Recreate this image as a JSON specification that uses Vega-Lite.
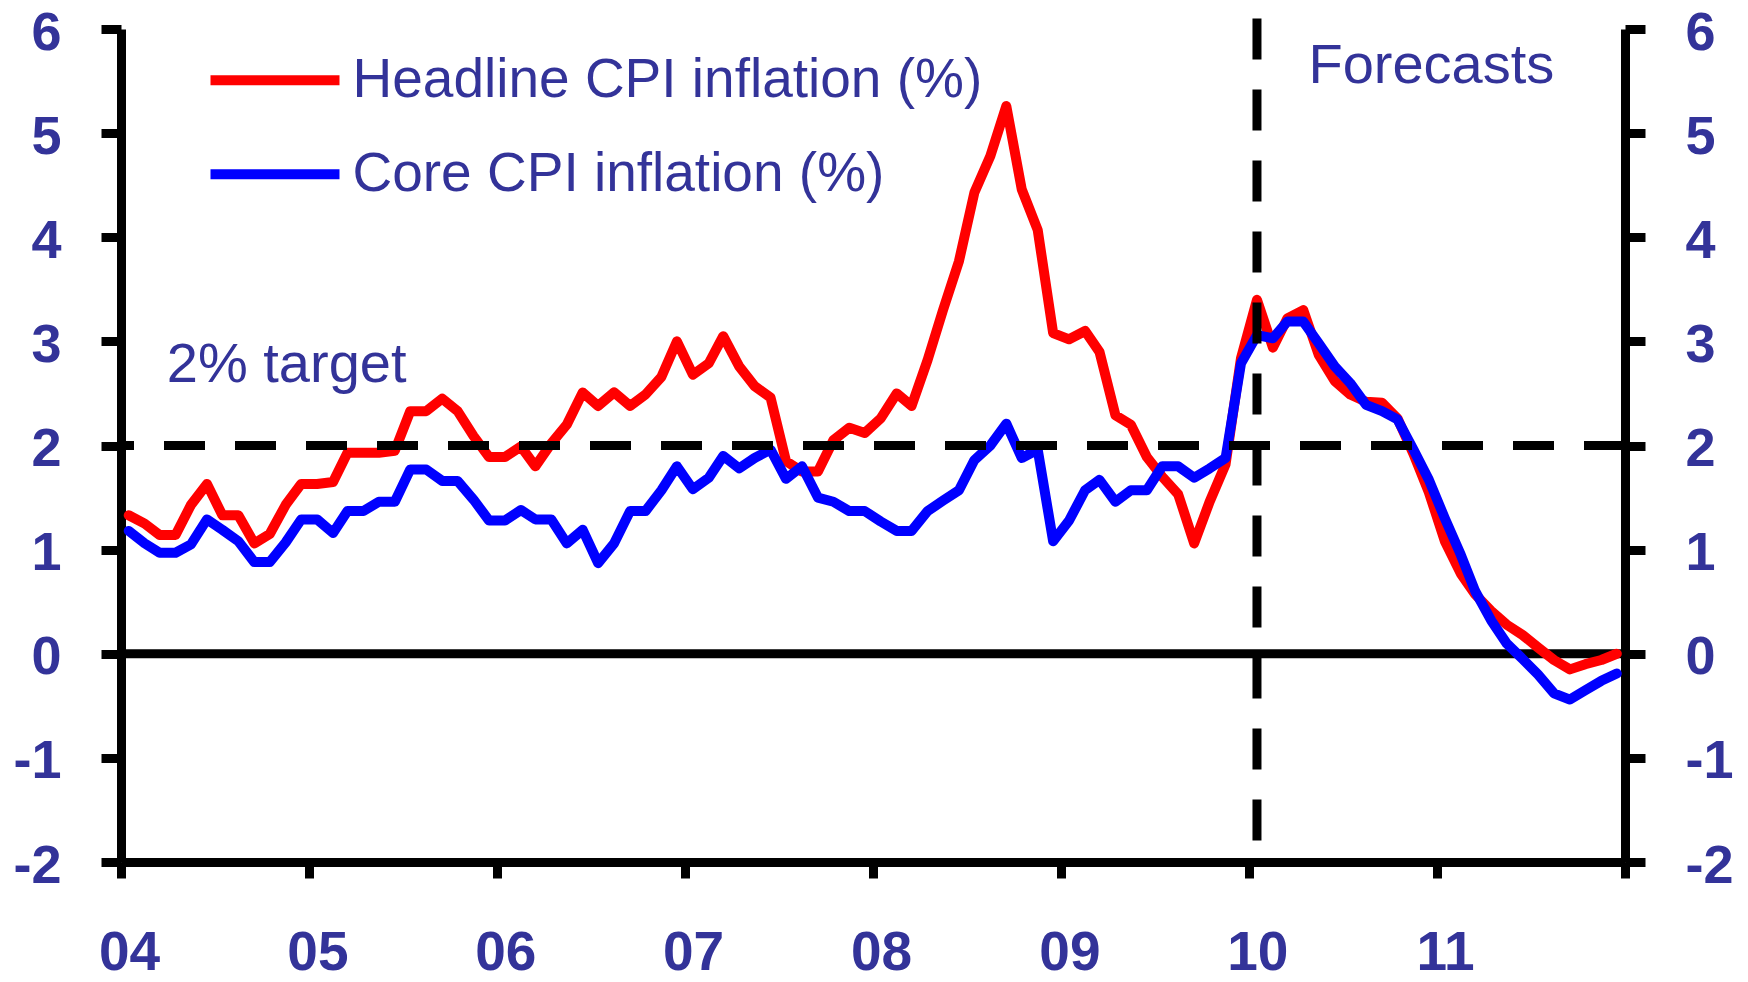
{
  "$schema": "https://vega.github.io/schema/vega-lite/v6.json",
  "width": 1504,
  "height": 833,
  "autosize": {"type": "none"},
  "padding": {"left": 121, "top": 29, "right": 123, "bottom": 120},
  "background": "white",
  "config": {
    "view": {"stroke": null},
    "font": "Liberation Sans",
    "axis": {
      "domainColor": "black", "domainWidth": 9, "tickColor": "black", "tickWidth": 9,
      "grid": false, "labelFont": "Liberation Sans", "labelFontWeight": "bold",
      "labelFontSize": 56, "labelColor": "#333399", "title": null
    },
    "legend": {
      "orient": "none", "legendX": 126.5, "legendY": 23.7, "title": null,
      "symbolType": "M-4,0H4", "symbolSize": 1040, "symbolStrokeWidth": 10,
      "labelFont": "Liberation Sans", "labelFontSize": 55, "labelColor": "#333399",
      "labelOffset": 50, "rowPadding": 38, "padding": 0, "labelLimit": 1000
    }
  },
  "datasets": {
    "cpi": [
      {"date":"2004-01-16","headline":1.33,"core":1.18},
      {"date":"2004-02-16","headline":1.25,"core":1.06},
      {"date":"2004-03-16","headline":1.14,"core":0.97},
      {"date":"2004-04-16","headline":1.14,"core":0.97},
      {"date":"2004-05-16","headline":1.43,"core":1.05},
      {"date":"2004-06-16","headline":1.63,"core":1.29},
      {"date":"2004-07-16","headline":1.33,"core":1.19},
      {"date":"2004-08-16","headline":1.33,"core":1.08},
      {"date":"2004-09-16","headline":1.06,"core":0.88},
      {"date":"2004-10-16","headline":1.15,"core":0.88},
      {"date":"2004-11-16","headline":1.43,"core":1.07},
      {"date":"2004-12-16","headline":1.63,"core":1.29},
      {"date":"2005-01-16","headline":1.63,"core":1.29},
      {"date":"2005-02-16","headline":1.65,"core":1.16},
      {"date":"2005-03-16","headline":1.93,"core":1.37},
      {"date":"2005-04-16","headline":1.93,"core":1.37},
      {"date":"2005-05-16","headline":1.93,"core":1.46},
      {"date":"2005-06-16","headline":1.95,"core":1.46},
      {"date":"2005-07-16","headline":2.33,"core":1.77},
      {"date":"2005-08-16","headline":2.33,"core":1.77},
      {"date":"2005-09-16","headline":2.45,"core":1.66},
      {"date":"2005-10-16","headline":2.33,"core":1.66},
      {"date":"2005-11-16","headline":2.09,"core":1.48},
      {"date":"2005-12-16","headline":1.89,"core":1.28},
      {"date":"2006-01-16","headline":1.89,"core":1.28},
      {"date":"2006-02-16","headline":1.99,"core":1.38},
      {"date":"2006-03-16","headline":1.8,"core":1.29},
      {"date":"2006-04-16","headline":2.02,"core":1.29},
      {"date":"2006-05-16","headline":2.2,"core":1.06},
      {"date":"2006-06-16","headline":2.51,"core":1.19},
      {"date":"2006-07-16","headline":2.38,"core":0.87},
      {"date":"2006-08-16","headline":2.51,"core":1.06},
      {"date":"2006-09-16","headline":2.38,"core":1.37},
      {"date":"2006-10-16","headline":2.49,"core":1.37},
      {"date":"2006-11-16","headline":2.66,"core":1.57},
      {"date":"2006-12-16","headline":3.0,"core":1.8},
      {"date":"2007-01-16","headline":2.68,"core":1.58},
      {"date":"2007-02-16","headline":2.79,"core":1.69},
      {"date":"2007-03-16","headline":3.05,"core":1.9},
      {"date":"2007-04-16","headline":2.76,"core":1.78},
      {"date":"2007-05-16","headline":2.57,"core":1.88},
      {"date":"2007-06-16","headline":2.46,"core":1.96},
      {"date":"2007-07-16","headline":1.85,"core":1.68},
      {"date":"2007-08-16","headline":1.75,"core":1.8},
      {"date":"2007-09-16","headline":1.75,"core":1.5},
      {"date":"2007-10-16","headline":2.05,"core":1.46},
      {"date":"2007-11-16","headline":2.17,"core":1.37},
      {"date":"2007-12-16","headline":2.12,"core":1.37},
      {"date":"2008-01-16","headline":2.26,"core":1.27},
      {"date":"2008-02-16","headline":2.5,"core":1.18},
      {"date":"2008-03-16","headline":2.38,"core":1.18},
      {"date":"2008-04-16","headline":2.82,"core":1.37},
      {"date":"2008-05-16","headline":3.3,"core":1.47},
      {"date":"2008-06-16","headline":3.77,"core":1.57},
      {"date":"2008-07-16","headline":4.43,"core":1.86},
      {"date":"2008-08-16","headline":4.78,"core":2.0},
      {"date":"2008-09-16","headline":5.26,"core":2.21},
      {"date":"2008-10-16","headline":4.46,"core":1.88},
      {"date":"2008-11-16","headline":4.07,"core":1.96},
      {"date":"2008-12-16","headline":3.08,"core":1.08},
      {"date":"2009-01-16","headline":3.02,"core":1.28},
      {"date":"2009-02-16","headline":3.1,"core":1.57},
      {"date":"2009-03-16","headline":2.9,"core":1.67},
      {"date":"2009-04-16","headline":2.29,"core":1.46},
      {"date":"2009-05-16","headline":2.2,"core":1.57},
      {"date":"2009-06-16","headline":1.89,"core":1.57},
      {"date":"2009-07-16","headline":1.7,"core":1.8},
      {"date":"2009-08-16","headline":1.53,"core":1.8},
      {"date":"2009-09-16","headline":1.06,"core":1.69},
      {"date":"2009-10-16","headline":1.46,"core":1.78},
      {"date":"2009-11-16","headline":1.82,"core":1.88},
      {"date":"2009-12-16","headline":2.84,"core":2.79},
      {"date":"2010-01-16","headline":3.4,"core":3.06},
      {"date":"2010-02-16","headline":2.94,"core":3.03},
      {"date":"2010-03-16","headline":3.22,"core":3.19},
      {"date":"2010-04-16","headline":3.3,"core":3.19},
      {"date":"2010-05-16","headline":2.87,"core":2.98},
      {"date":"2010-06-16","headline":2.62,"core":2.76},
      {"date":"2010-07-16","headline":2.49,"core":2.6},
      {"date":"2010-08-16","headline":2.42,"core":2.39},
      {"date":"2010-09-16","headline":2.41,"core":2.33},
      {"date":"2010-10-16","headline":2.26,"core":2.25},
      {"date":"2010-11-16","headline":1.92,"core":1.96},
      {"date":"2010-12-16","headline":1.55,"core":1.67},
      {"date":"2011-01-16","headline":1.08,"core":1.3},
      {"date":"2011-02-16","headline":0.77,"core":0.95},
      {"date":"2011-03-16","headline":0.57,"core":0.6},
      {"date":"2011-04-16","headline":0.41,"core":0.32},
      {"date":"2011-05-16","headline":0.28,"core":0.1},
      {"date":"2011-06-16","headline":0.18,"core":-0.05},
      {"date":"2011-07-16","headline":0.06,"core":-0.2},
      {"date":"2011-08-16","headline":-0.06,"core":-0.38},
      {"date":"2011-09-16","headline":-0.15,"core":-0.44},
      {"date":"2011-10-16","headline":-0.1,"core":-0.35},
      {"date":"2011-11-16","headline":-0.06,"core":-0.26},
      {"date":"2011-12-16","headline":0.0,"core":-0.19}
    ]
  },
  "resolve": {"axis": {"y": "independent", "x": "independent"}},
  "layer": [
    {
      "data": {"values": [{"v": 0}]},
      "mark": {"type": "rule", "color": "black", "strokeWidth": 9},
      "encoding": {
        "y": {"field": "v", "type": "quantitative", "scale": {"domain": [-2, 6], "nice": false, "zero": false}, "axis": null}
      }
    },
    {
      "data": {"name": "cpi"},
      "transform": [
        {"fold": ["headline", "core"], "as": ["series", "value"]},
        {"filter": "datum.series == 'headline'"}
      ],
      "mark": {"type": "line", "strokeWidth": 10, "strokeJoin": "round", "strokeCap": "round"},
      "encoding": {
        "x": {
          "field": "date", "type": "temporal", "title": null,
          "scale": {"type": "utc", "domain": [{"year": 2004, "month": 1, "date": 1, "utc": true}, {"year": 2012, "month": 1, "date": 1, "utc": true}]},
          "axis": {
            "values": [
              {"year": 2004, "month": 1, "date": 1, "utc": true},
              {"year": 2005, "month": 1, "date": 1, "utc": true},
              {"year": 2006, "month": 1, "date": 1, "utc": true},
              {"year": 2007, "month": 1, "date": 1, "utc": true},
              {"year": 2008, "month": 1, "date": 1, "utc": true},
              {"year": 2009, "month": 1, "date": 1, "utc": true},
              {"year": 2010, "month": 1, "date": 1, "utc": true},
              {"year": 2011, "month": 1, "date": 1, "utc": true},
              {"year": 2012, "month": 1, "date": 1, "utc": true}
            ],
            "labelExpr": "utcyear(datum.value) >= 2012 ? '' : utcFormat(datum.value, '%y')",
            "labelFontSize": 55,
            "tickSize": 16, "labelPadding": 48, "labelFlush": false, "labelOverlap": false, "labelOffset": 8
          }
        },
        "y": {
          "field": "value", "type": "quantitative", "title": null,
          "scale": {"domain": [-2, 6], "nice": false, "zero": false},
          "axis": {"orient": "left", "values": [-2, -1, 0, 1, 2, 3, 4, 5, 6], "labelExpr": "'' + datum.value", "labelFontSize": 54, "labelOffset": 4, "tickSize": 20, "labelPadding": 40}
        },
        "color": {
          "field": "series", "type": "nominal",
          "scale": {"domain": ["headline", "core"], "range": ["#ff0000", "#0000ff"]},
          "legend": {"labelExpr": "datum.value == 'headline' ? 'Headline CPI inflation (%)' : 'Core CPI inflation (%)'"}
        }
      }
    },
    {
      "data": {"name": "cpi"},
      "transform": [
        {"fold": ["headline", "core"], "as": ["series", "value"]},
        {"filter": "datum.series == 'core'"}
      ],
      "mark": {"type": "line", "strokeWidth": 10, "strokeJoin": "round", "strokeCap": "round"},
      "encoding": {
        "x": {"field": "date", "type": "temporal", "title": null, "axis": null},
        "y": {
          "field": "value", "type": "quantitative", "title": null,
          "axis": {"orient": "right", "values": [-2, -1, 0, 1, 2, 3, 4, 5, 6], "labelExpr": "'' + datum.value", "labelFontSize": 54, "labelOffset": 4, "tickSize": 20, "labelPadding": 40}
        },
        "color": {
          "field": "series", "type": "nominal",
          "legend": {"labelExpr": "datum.value == 'headline' ? 'Headline CPI inflation (%)' : 'Core CPI inflation (%)'"}
        }
      }
    },
    {
      "data": {"values": [{"v": 2}]},
      "mark": {"type": "rule", "color": "black", "strokeWidth": 9, "strokeDash": [41, 30]},
      "encoding": {
        "y": {"field": "v", "type": "quantitative", "axis": null}
      }
    },
    {
      "data": {"values": [{"d": "2010-01-16", "top": 6.1, "bottom": -2}]},
      "mark": {"type": "rule", "color": "black", "strokeWidth": 9, "strokeDash": [41, 30], "clip": false},
      "encoding": {
        "x": {"field": "d", "type": "temporal", "axis": null},
        "y": {"field": "top", "type": "quantitative", "axis": null},
        "y2": {"field": "bottom"}
      }
    },
    {
      "data": {"values": [
        {"d": "2004-03-30", "v": 2.61, "t": "2% target"},
        {"d": "2010-04-26", "v": 5.483, "t": "Forecasts"}
      ]},
      "mark": {"type": "text", "align": "left", "baseline": "alphabetic", "font": "Liberation Sans", "fontSize": 56, "color": "#333399"},
      "encoding": {
        "x": {"field": "d", "type": "temporal", "axis": null},
        "y": {"field": "v", "type": "quantitative", "axis": null},
        "text": {"field": "t"}
      }
    }
  ]
}
